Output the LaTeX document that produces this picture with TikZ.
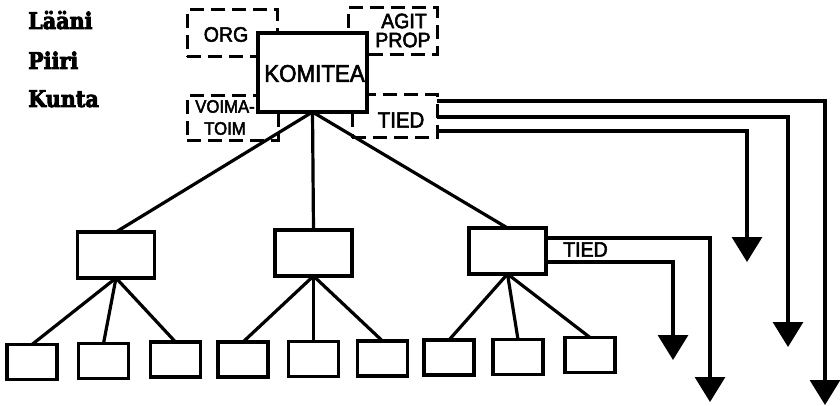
\documentclass[tikz,border=0pt]{standalone}
\usepackage{fontspec}
\usetikzlibrary{arrows.meta,calc}
\newfontfamily\techfont{Liberation Sans}[FakeStretch=0.93,FakeBold=2.5]
\newfontfamily\labfont{DejaVu Serif}[FakeStretch=0.9,BoldFeatures={FakeStretch=0.9,FakeBold=3.5}]
\begin{document}
\begin{tikzpicture}[x=1pt,y=-1pt,
  box/.style={draw,line width=3.2pt,fill=white,inner sep=0pt,outer sep=0pt},
  dbox/.style={draw,line width=3pt,dash pattern=on 14pt off 7pt,inner sep=0pt,outer sep=0pt},
  sbox/.style={box,minimum width=50pt,minimum height=35pt},
  mbox/.style={box,minimum width=77pt,minimum height=46pt},
  wire/.style={line width=3.2pt},
  arr/.style={line width=3.2pt,-{Triangle[width=30pt,length=25pt]}},
  tech/.style={inner sep=0pt,font=\techfont\fontsize{#1}{#1}\selectfont},
  lab/.style={inner sep=0pt,anchor=base west,font=\labfont\bfseries\fontsize{23}{23}\selectfont}]
\useasboundingbox (0,0) rectangle (840,406);
\fill[white] (0,0) rectangle (840,406);

% level labels
\node[lab] (laani) at (28,29) {Lääni};
\node[lab] (piiri) at (28,69) {Piiri};
\node[lab] (kunta) at (28,107) {Kunta};

% dashed sections
\node[dbox,minimum width=90pt,minimum height=47pt] (org) at (232,33.5) {};
\node[dbox,minimum width=89pt,minimum height=47pt] (agit) at (392.5,31.5) {};
\node[dbox,minimum width=91pt,minimum height=45pt] (voima) at (232.5,118.5) {};
\node[dbox,minimum width=85pt,minimum height=43pt] (tied) at (394.5,116.5) {};

% committee
\node[box,minimum width=109pt,minimum height=79pt] (kom) at (312.5,72.5) {};

% texts
\node[tech=24] (tkom) at (314.5,73.5) {KOMITEA};
\node[tech=21] (torg) at (226,34.5) {ORG};
\node[tech=21] (tagit) at (404,21) {AGIT};
\node[tech=21] (tprop) at (403,40) {PROP};
\node[tech=18] (tvoima) at (225,106.5) {VOIMA-};
\node[tech=18] (ttoim) at (225,128.5) {TOIM};
\node[tech=22] (ttied) at (401,120) {TIED};

% middle level
\node[mbox] (midA) at (116,255) {};
\node[mbox] (midB) at (313.5,253) {};
\node[mbox] (midC) at (507.5,251) {};

% bottom level
\node[sbox] (b1) at (32,362) {};
\node[sbox] (b2) at (103.5,361) {};
\node[sbox] (b3) at (175.5,359.5) {};
\node[sbox] (b4) at (243,359.5) {};
\node[sbox] (b5) at (313.5,359) {};
\node[sbox] (b6) at (382.5,358.5) {};
\node[sbox] (b7) at (449,357.5) {};
\node[sbox] (b8) at (518,357) {};
\node[sbox] (b9) at (590,355) {};

% tree connectors
\draw[wire] (kom.south) -- (midA.north);
\draw[wire] (kom.south) -- (midB.north);
\draw[wire] (kom.south) -- (midC.north);
\foreach \m/\a/\b/\c in {midA/b1/b2/b3, midB/b4/b5/b6, midC/b7/b8/b9}{
  \draw[wire] (\m.south) -- (\a.north);
  \draw[wire] (\m.south) -- (\b.north);
  \draw[wire] (\m.south) -- (\c.north);
}

% information arrows
\coordinate (e1) at (825,405);
\coordinate (e2) at (788,347);
\coordinate (e3) at (747,262);
\coordinate (e4) at (710,402);
\coordinate (e5) at (673,360);
\draw[arr] ($(tied.north east)+(0,6)$) -| (e1);
\draw[arr] ($(tied.east)+(0,0.5)$) -| (e2);
\draw[arr] ($(tied.south east)+(0,-7)$) -| (e3);
\draw[arr] ($(midC.north east)+(0,10)$) -| (e4);
\draw[arr] ($(midC.south east)+(0,-12)$) -| (e5);
\node[tech=21] (tmid) at (585.5,249.5) {TIED};
\end{tikzpicture}
\end{document}
